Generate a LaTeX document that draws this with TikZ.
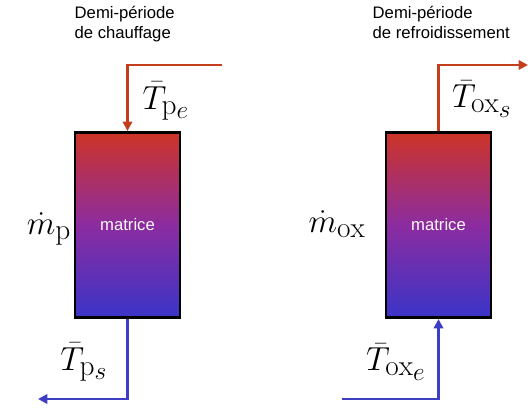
\RequirePackage{fix-cm}
\documentclass[tikz,border=0pt]{standalone}
\usepackage{amsmath}
\usepackage{fontspec}
\setsansfont{Liberation Sans}
\usetikzlibrary{arrows.meta}
\DeclareMathSizes{25}{25}{22}{19}

\definecolor{hotred}{RGB}{205,52,38}
\definecolor{midpurple}{RGB}{140,44,160}
\definecolor{coldblue}{RGB}{58,52,200}
\definecolor{arrred}{RGB}{196,62,30}
\definecolor{arrblue}{RGB}{62,62,196}

\begin{document}
\begin{tikzpicture}[
    x=0.75pt, y=-0.75pt,
    matbox/.style={draw=black, line width=2pt, minimum width=78.75pt,
                   minimum height=139pt, top color=hotred, bottom color=coldblue,
                   middle color=midpurple, text=white!92!pink,
                   font=\sffamily\fontsize{12.5}{15}\selectfont},
    phase/.style={align=left, anchor=north west,
                  font=\sffamily\fontsize{12.5}{15}\selectfont},
    hotarrow/.style={-{Triangle[length=7pt,width=7pt]}, line width=1.8pt, arrred},
    coldarrow/.style={-{Triangle[length=7pt,width=7pt]}, line width=1.8pt, arrblue},
    temp/.style={inner sep=0pt, font=\fontsize{25}{30}\selectfont}
]
\useasboundingbox (0,0) rectangle (528,409);

% --- titles ---
\node[phase] (t1) at (70,2) {Demi-p\'eriode\\de chauffage};
\node[phase] (t2) at (368,2) {Demi-p\'eriode\\de refroidissement};

% --- matrices ---
\node[matbox] (mat1) at (127.5,225) {matrice};
\node[matbox] (mat2) at (438.5,225) {matrice};

% mass flows
\node[temp] (m1) at (49,229) {$\dot{m}_{\mathrm{p}}$};
\node[temp] (m2) at (337,224) {$\dot{m}_{\mathrm{ox}}$};

% heating half-period: hot in, cold out
\coordinate (in1) at (222,65);
\coordinate (out1) at (38,399);
\draw[hotarrow] (in1) -| (mat1.north);
\draw[coldarrow] (mat1.south) |- (out1);
\node[temp] (te1) at (166,101) {$\bar{T}_{\mathrm{p}_e}$};
\node[temp] (ts1) at (84,362) {$\bar{T}_{\mathrm{p}_s}$};

% cooling half-period: cold in, hot out
\coordinate (in2) at (342,399);
\coordinate (out2) at (528,65);
\draw[coldarrow] (in2) -| (mat2.south);
\draw[hotarrow] (mat2.north) |- (out2);
\node[temp] (ts2) at (482,99) {$\bar{T}_{\mathrm{ox}_s}$};
\node[temp] (te2) at (396,362) {$\bar{T}_{\mathrm{ox}_e}$};

\end{tikzpicture}
\end{document}
